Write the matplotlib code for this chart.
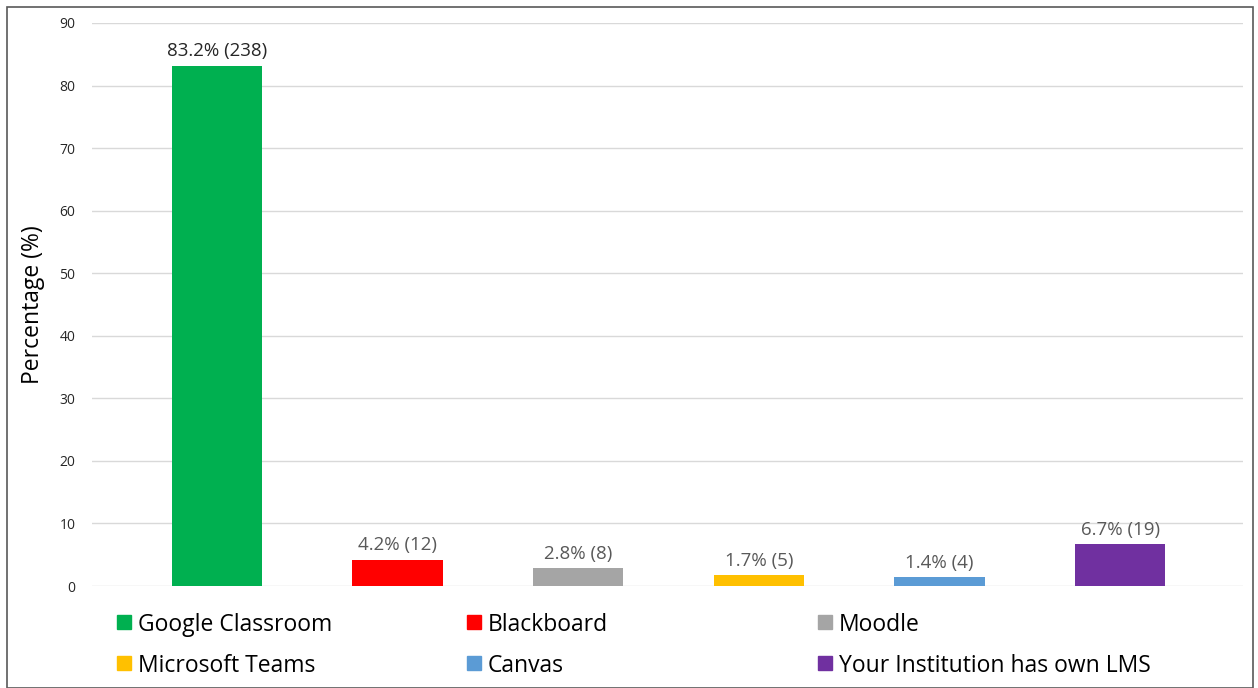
import matplotlib.pyplot as plt
from matplotlib.patches import Rectangle

platforms = ["Google Classroom", "Blackboard", "Moodle", "Microsoft Teams",
             "Canvas", "Your Institution has own LMS"]
percent = [83.2, 4.2, 2.8, 1.7, 1.4, 6.7]
counts = [238, 12, 8, 5, 4, 19]
colors = ["#00B050", "#FF0000", "#A5A5A5", "#FFC000", "#5B9BD5", "#7030A0"]

plt.rcParams['font.family'] = ['Open Sans', 'DejaVu Sans']

fig = plt.figure(figsize=(12.58, 6.88), dpi=100)
ax = fig.add_axes([92 / 1258, 102 / 688, 1151 / 1258, 563 / 688])

x = list(range(len(platforms)))
ax.bar(x, percent, width=0.5, color=colors, zorder=3)

for i, (p, c) in enumerate(zip(percent, counts)):
    tc = "#262626" if i == 0 else "#595959"
    ax.annotate(f"{p}% ({c})", (i, p), xytext=(0, 4), textcoords="offset points",
                ha="center", va="bottom", fontsize=13.5, color=tc)

ax.set_xlim(-0.692, 5.68)
ax.set_ylim(0, 90)
ax.set_yticks(range(0, 91, 10))
ax.set_xticks([])
ax.tick_params(axis="y", length=0, labelsize=10, colors="#262626", pad=12)
ax.grid(axis="y", color="#D9D9D9", linewidth=1, zorder=0)
for s in ax.spines.values():
    s.set_visible(False)
ax.set_ylabel("Percentage (%)", fontsize=16.5, color="#000000", labelpad=10)

# legend, 3 columns x 2 rows
col_x = [117, 467, 818]
row_y = [622, 663]
W, H = 1258, 688
for i, name in enumerate(platforms):
    cx = col_x[i % 3]
    cy = row_y[i // 3]
    fig.patches.append(Rectangle((cx / W, (H - cy - 7) / H), 14 / W, 14 / H,
                                 transform=fig.transFigure, color=colors[i]))
    fig.text((cx + 21) / W, (H - cy - 3) / H, name, fontsize=16.5, va="center",
             ha="left", color="#000000")

# outer chart border
fig.patches.append(Rectangle((7 / W, 0), (W - 12) / W, (H - 7) / H, fill=False,
                             edgecolor="#595959", linewidth=1.2,
                             transform=fig.transFigure))

fig.savefig("out.png", dpi=100)
